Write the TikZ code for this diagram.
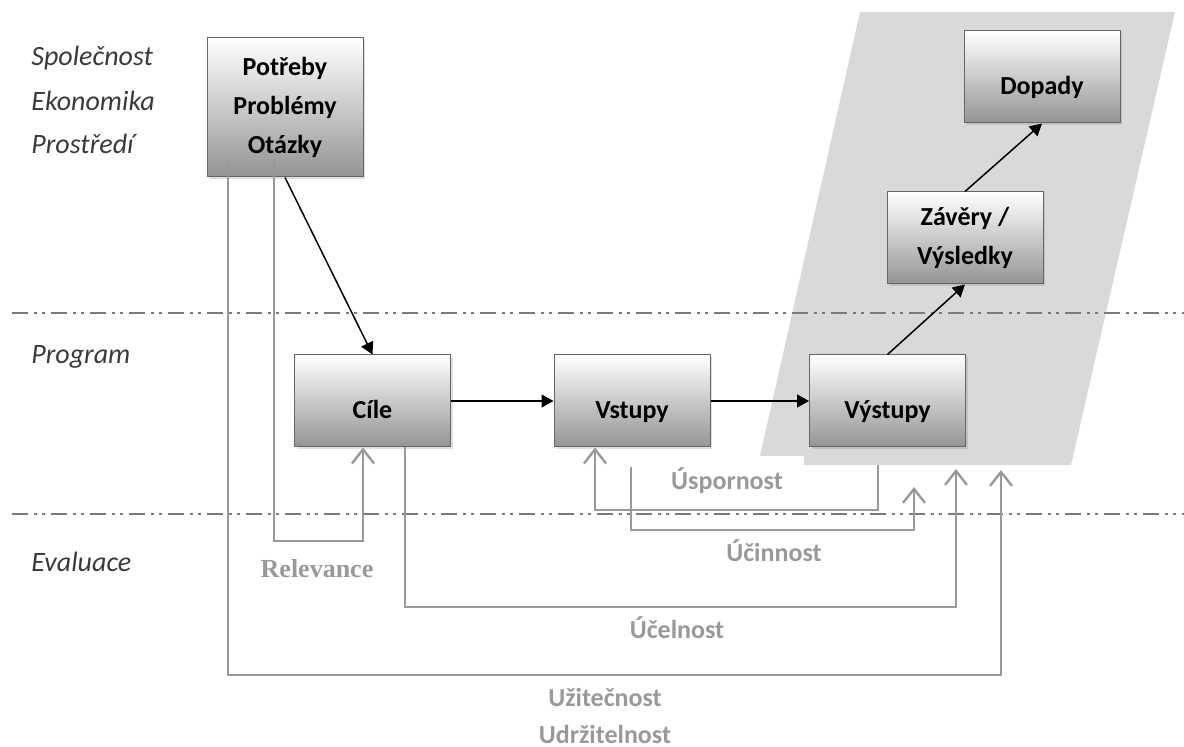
\documentclass[tikz,border=0pt]{standalone}
\usepackage{fontspec}
\setmainfont{Carlito}
\newfontfamily\relfont{Liberation Serif}
\usetikzlibrary{arrows.meta, positioning, shadows}

\definecolor{fbgray}{HTML}{999999}
\definecolor{zonegray}{HTML}{D9D9D9}
\definecolor{sepgray}{HTML}{7A7A7A}
\definecolor{levelgray}{HTML}{3A3A3A}

\begin{document}
\begin{tikzpicture}[x=0.5pt, y=-0.5pt,
  box/.style={draw=black!60, line width=0.5pt, top color=white, bottom color=black!42,
    minimum width=78pt, minimum height=46pt, align=center,
    font=\fontsize{13}{19.5}\selectfont\bfseries,
    drop shadow={opacity=0.25, shadow xshift=1pt, shadow yshift=-1pt}},
  onebox/.style={box, text height=18pt, text depth=0pt},
  flow/.style={-{Triangle[length=6pt,width=6.5pt]}, line width=0.75pt},
  fb/.style={-{Straight Barb[length=7pt,width=11pt]}, fbgray, line width=1.2pt},
  fbtext/.style={fbgray, font=\fontsize{13}{15}\selectfont\bfseries},
  level/.style={levelgray, anchor=west, inner sep=0pt, font=\fontsize{14}{16}\selectfont\itshape},
  sep/.style={sepgray, line width=1.4pt,
    dash pattern=on 8pt off 3pt on 1.5pt off 2.5pt on 1.5pt off 3pt}]
\useasboundingbox (0,0) rectangle (1184,747);

% Results zone
\fill[zonegray] (860,12) -- (1175,12) -- (1071,465) -- (804,465) -- (804,456) -- (760,456) -- cycle;

% Level lines and names
\draw[sep] (12,313) -- (1184,313);
\draw[sep] (12,514) -- (1184,514);
\node[level] (spol) at (31,58) {Společnost};
\node[level] (ekon) at (31,101) {Ekonomika};
\node[level] (pros) at (31,144) {Prostředí};
\node[level] (prog) at (31,357) {Program};
\node[level] (eval) at (31,562) {Evaluace};

% Boxes
\node[box, minimum height=69.5pt] (pot) at (285,107.5) {Potřeby\\Problémy\\Otázky};
\node[onebox] (cile) at (372.5,401) {Cíle};
\node[onebox] (vst) at (632,401) {Vstupy};
\node[onebox] (vys) at (887.5,401) {Výstupy};
\node[box] (zav) at (965,238) {Závěry /\\Výsledky};
\node[onebox] (dop) at (1042,77) {Dopady};

% Flow
\draw[flow] (pot.south) -- (cile.north);
\draw[flow] (cile.east) -- (vst.west);
\draw[flow] (vst.east) -- (vys.west);
\draw[flow] (vys.north) -- (zav.south);
\draw[flow] (zav.north) -- (dop.south);

% Evaluation loops
\coordinate (relA) at (274,159);
\coordinate (relB) at (363,541);
\draw[fb] (relA) |- (relB) -- (relB |- cile.south);
\node[fbtext, font=\relfont\fontsize{13}{15}\selectfont\bfseries] (relt) at (317,569) {Relevance};

\coordinate (uspA) at (878,465);
\coordinate (uspB) at (595,510);
\draw[fb] (uspA) |- (uspB) -- (uspB |- vst.south);
\node[fbtext] (uspt) at (727,481) {Úspornost};

\coordinate (ucnA) at (631,467);
\coordinate (ucnB) at (914,530);
\coordinate (ucnC) at (914,487);
\draw[fb] (ucnA) |- (ucnB) -- (ucnC);
\node[fbtext] (ucnt) at (774,551) {Účinnost};

\coordinate (uceA) at (405,447);
\coordinate (uceB) at (956,607);
\coordinate (uceC) at (956,469);
\draw[fb] (uceA) |- (uceB) -- (uceC);
\node[fbtext] (ucet) at (677,628) {Účelnost};

\coordinate (uziA) at (228,159);
\coordinate (uziB) at (1001,675);
\coordinate (uziC) at (1001,470);
\draw[fb] (uziA) |- (uziB) -- (uziC);
\node[fbtext] (uzit) at (605,697) {Užitečnost};
\node[fbtext] (udrt) at (605,734) {Udržitelnost};
\end{tikzpicture}
\end{document}
